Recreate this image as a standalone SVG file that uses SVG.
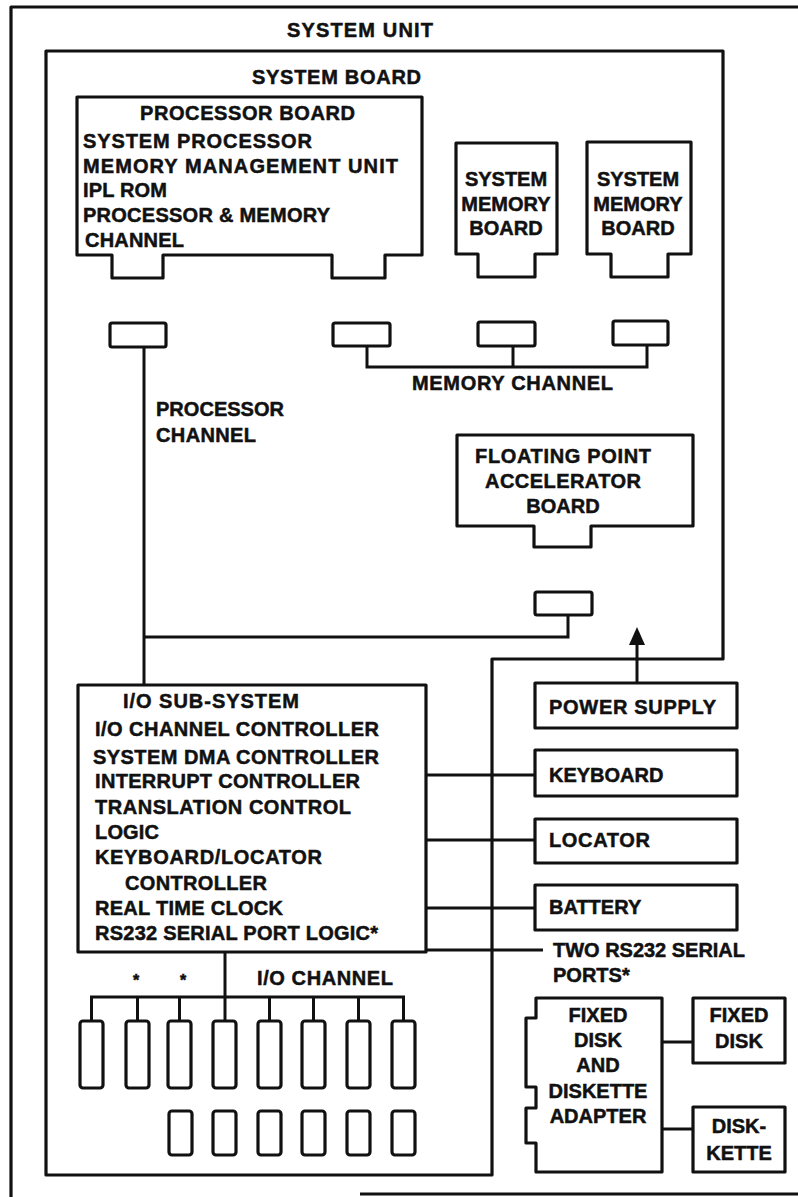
<svg xmlns="http://www.w3.org/2000/svg" width="798" height="1197" viewBox="0 0 798 1197">
<style>
.t{font-family:"Liberation Sans",Arial,Helvetica,sans-serif;font-weight:bold;font-size:20px;fill:#111;stroke:#111;stroke-width:0.5}
.c{text-anchor:middle}
.s{fill:none;stroke:#111;stroke-width:3.2;stroke-linejoin:round}
.b{fill:#fff;stroke:#111;stroke-width:3.2;stroke-linejoin:round}
.w{fill:none;stroke:#111;stroke-width:3}
</style>
<defs>
<marker id="arrow" viewBox="0 0 18 16" refX="0" refY="8" markerWidth="18" markerHeight="16" markerUnits="userSpaceOnUse" orient="auto">
<path d="M0,0 L18,8 L0,16 Z" fill="#111"/>
</marker>
</defs>
<rect width="798" height="1197" fill="#fff"/>

<g id="system-unit">
<path class="s" d="M798,7 H11 V1197"/>
<path class="s" d="M360,1194 H798"/>
<text class="t" x="287" y="37" textLength="146">SYSTEM UNIT</text>
</g>

<g id="system-board">
<path class="s" d="M46,51 H723 V659 H492 V1175 H46 Z"/>
<text class="t" x="252" y="84" textLength="169">SYSTEM BOARD</text>
</g>

<g id="connectors">
<path class="w" d="M144,347 V685"/>
<path class="w" d="M144,637 H568 V615"/>
<path class="w" d="M367,346 V367 H647 V345"/>
<path class="w" d="M513,346 V367"/>
<path class="w" d="M637,683 V645" marker-end="url(#arrow)"/>
<path class="w" d="M426,775 H535"/>
<path class="w" d="M426,840 H535"/>
<path class="w" d="M426,908 H535"/>
<path class="w" d="M426,950 H543"/>
<path class="w" d="M225,952 V1021"/>
<path class="w" d="M91.5,1021 V997 H403.5 V1021"/>
<path class="w" d="M137.5,997 V1021 M179.5,997 V1021 M269.5,997 V1021 M313.5,997 V1021 M358.5,997 V1021"/>
<path class="w" d="M662,1042 H693"/>
<path class="w" d="M662,1129 H693"/>
</g>

<g id="processor-board">
<path class="b" d="M77,97 H422 V255 H385 V278 H332 V255 H163 V278 H112 V255 H77 Z"/>
<text class="t" x="140" y="120" textLength="215">PROCESSOR BOARD</text>
<text class="t" x="83" y="148" textLength="229">SYSTEM PROCESSOR</text>
<text class="t" x="83" y="173" textLength="315">MEMORY MANAGEMENT UNIT</text>
<text class="t" x="83" y="197" textLength="84">IPL ROM</text>
<text class="t" x="83" y="222" textLength="247">PROCESSOR &amp; MEMORY</text>
<text class="t" x="85" y="247" textLength="99">CHANNEL</text>
</g>

<g id="memory-board-1">
<path class="b" d="M456,143 H557 V254 H535 V277 H478 V254 H456 Z"/>
<text class="t c" x="506" y="186">SYSTEM</text>
<text class="t c" x="506" y="211">MEMORY</text>
<text class="t c" x="506" y="235">BOARD</text>
</g>

<g id="memory-board-2">
<path class="b" d="M587,142 H691 V254 H668 V277 H611 V254 H587 Z"/>
<text class="t c" x="638" y="186">SYSTEM</text>
<text class="t c" x="638" y="211">MEMORY</text>
<text class="t c" x="638" y="235">BOARD</text>
</g>

<g id="processor-socket"><rect class="b" x="110" y="323" width="56" height="24" rx="2"/></g>
<g id="memory-socket-1"><rect class="b" x="333" y="323" width="57" height="23" rx="2"/></g>
<g id="memory-socket-2"><rect class="b" x="478" y="322" width="57" height="24" rx="2"/></g>
<g id="memory-socket-3"><rect class="b" x="613" y="321" width="55" height="24" rx="2"/></g>

<g id="memory-channel-label">
<text class="t" x="412" y="390" textLength="201">MEMORY CHANNEL</text>
</g>

<g id="processor-channel-label">
<text class="t" x="156" y="416" textLength="128">PROCESSOR</text>
<text class="t" x="156" y="442" textLength="100">CHANNEL</text>
</g>

<g id="fpa-board">
<path class="b" d="M457,435 H693 V526 H591 V547 H534 V526 H457 Z"/>
<text class="t c" x="563" y="463" textLength="176">FLOATING POINT</text>
<text class="t c" x="563" y="488" textLength="156">ACCELERATOR</text>
<text class="t c" x="563" y="513">BOARD</text>
</g>
<g id="fpa-socket"><rect class="b" x="535" y="592" width="57" height="23" rx="2"/></g>

<g id="io-subsystem">
<rect class="b" x="78" y="685" width="348" height="267"/>
<text class="t" x="123" y="708" textLength="176">I/O SUB-SYSTEM</text>
<text class="t" x="95" y="736" textLength="284">I/O CHANNEL CONTROLLER</text>
<text class="t" x="93" y="764" textLength="286">SYSTEM DMA CONTROLLER</text>
<text class="t" x="95" y="788" textLength="265">INTERRUPT CONTROLLER</text>
<text class="t" x="95" y="814" textLength="256">TRANSLATION CONTROL</text>
<text class="t" x="95" y="839" textLength="64">LOGIC</text>
<text class="t" x="95" y="864" textLength="227">KEYBOARD/LOCATOR</text>
<text class="t" x="125" y="890" textLength="142">CONTROLLER</text>
<text class="t" x="95" y="915" textLength="188">REAL TIME CLOCK</text>
<text class="t" x="95" y="940" textLength="283">RS232 SERIAL PORT LOGIC*</text>
</g>

<g id="power-supply">
<rect class="b" x="535" y="683" width="202" height="45"/>
<text class="t" x="549" y="714" textLength="167">POWER SUPPLY</text>
</g>
<g id="keyboard">
<rect class="b" x="535" y="750" width="202" height="46"/>
<text class="t" x="549" y="782">KEYBOARD</text>
</g>
<g id="locator">
<rect class="b" x="535" y="819" width="202" height="44"/>
<text class="t" x="549" y="847" textLength="101">LOCATOR</text>
</g>
<g id="battery">
<rect class="b" x="535" y="885" width="202" height="45"/>
<text class="t" x="549" y="914">BATTERY</text>
</g>
<g id="rs232-ports">
<text class="t" x="553" y="957" textLength="192">TWO RS232 SERIAL</text>
<text class="t" x="553" y="982">PORTS*</text>
</g>

<g id="io-channel">
<text class="t" x="257" y="985" textLength="136">I/O CHANNEL</text>
<text class="t c" x="136" y="986" style="font-size:16px">*</text>
<text class="t c" x="183" y="986" style="font-size:16px">*</text>
<rect class="b" x="80" y="1021" width="23" height="67" rx="3"/>
<rect class="b" x="126" y="1021" width="23" height="67" rx="3"/>
<rect class="b" x="168" y="1021" width="23" height="67" rx="3"/>
<rect class="b" x="213" y="1021" width="23" height="67" rx="3"/>
<rect class="b" x="258" y="1021" width="23" height="67" rx="3"/>
<rect class="b" x="302" y="1021" width="23" height="67" rx="3"/>
<rect class="b" x="347" y="1021" width="23" height="67" rx="3"/>
<rect class="b" x="392" y="1021" width="23" height="67" rx="3"/>
<rect class="b" x="169" y="1111" width="23" height="44" rx="3"/>
<rect class="b" x="213" y="1111" width="23" height="44" rx="3"/>
<rect class="b" x="258" y="1111" width="23" height="44" rx="3"/>
<rect class="b" x="302" y="1111" width="23" height="44" rx="3"/>
<rect class="b" x="347" y="1111" width="23" height="44" rx="3"/>
<rect class="b" x="392" y="1111" width="23" height="44" rx="3"/>
</g>

<g id="disk-adapter">
<path class="b" d="M536,998 H662 V1172 H536 V1143 H526 V1108 H536 V1087 H526 V1018 H536 Z"/>
<text class="t c" x="598" y="1022">FIXED</text>
<text class="t c" x="598" y="1047">DISK</text>
<text class="t c" x="598" y="1072">AND</text>
<text class="t c" x="598" y="1098">DISKETTE</text>
<text class="t c" x="598" y="1123">ADAPTER</text>
</g>
<g id="fixed-disk">
<rect class="b" x="693" y="998" width="92" height="65"/>
<text class="t c" x="739" y="1022">FIXED</text>
<text class="t c" x="739" y="1048">DISK</text>
</g>
<g id="diskette">
<rect class="b" x="693" y="1107" width="92" height="65"/>
<text class="t c" x="739" y="1133">DISK-</text>
<text class="t c" x="739" y="1160">KETTE</text>
</g>
</svg>
